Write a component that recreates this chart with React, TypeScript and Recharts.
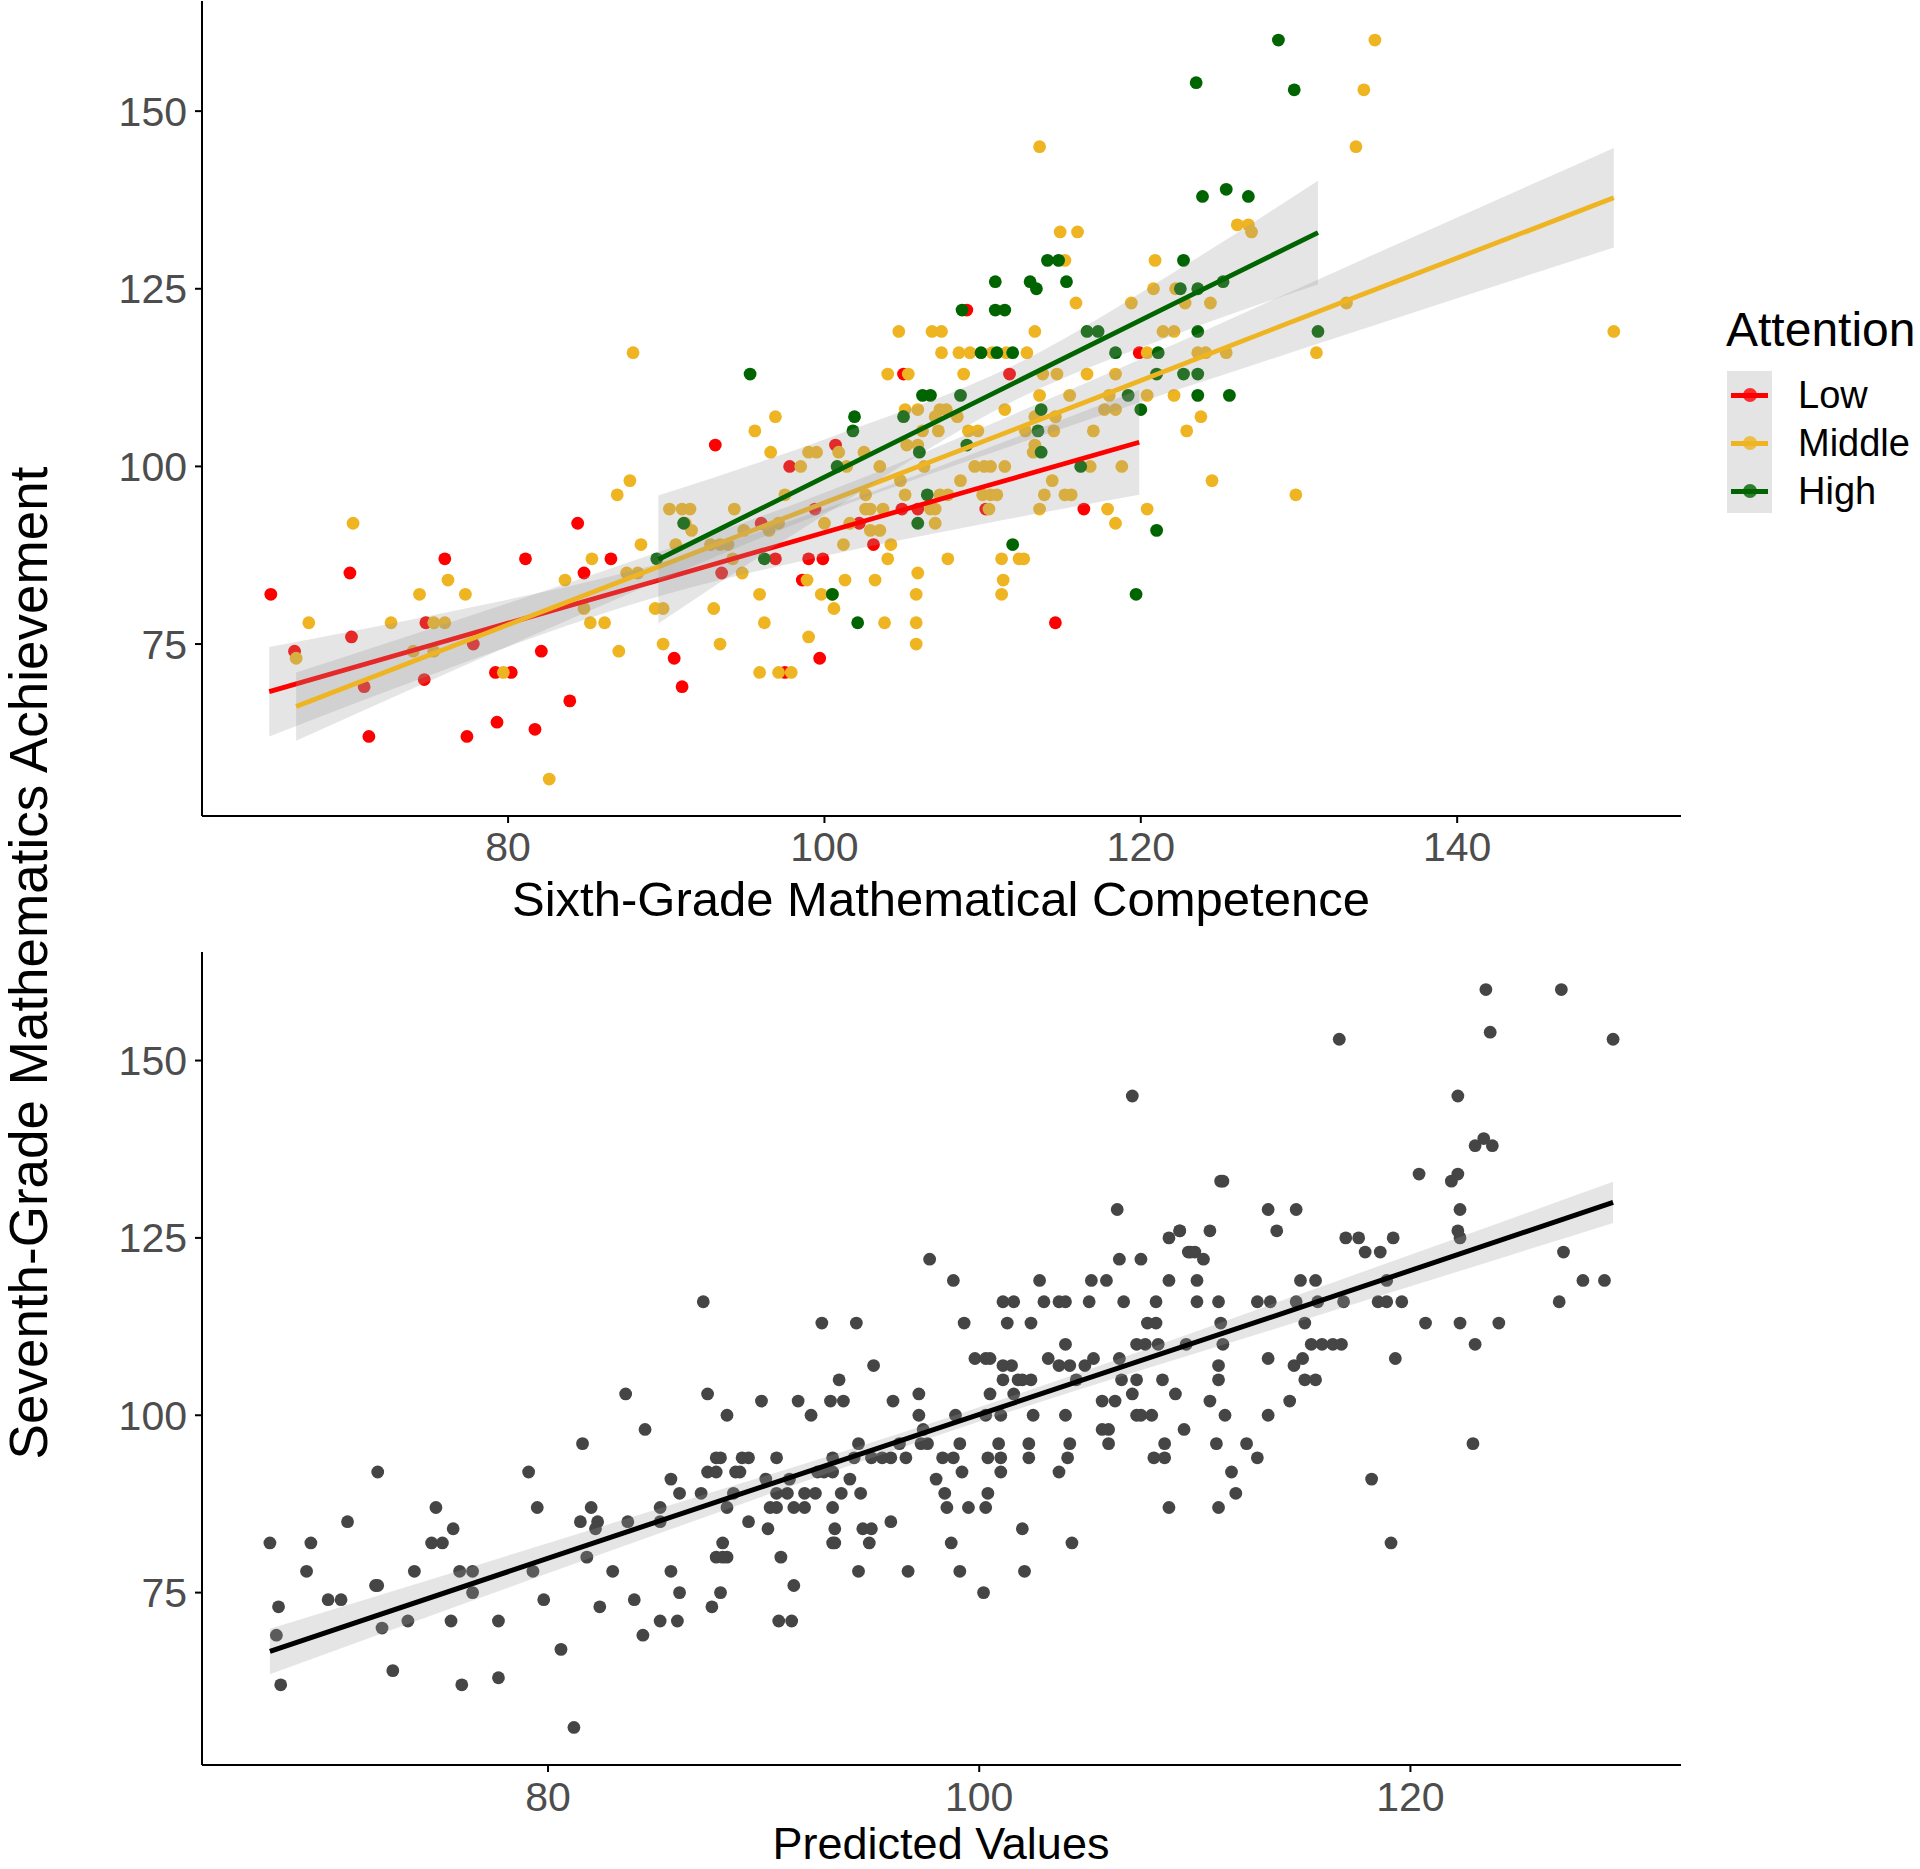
import React from 'react';
import { ComposedChart, Scatter, Line, Area, XAxis, YAxis } from 'recharts';

const FONT = '"Liberation Sans", Arial, sans-serif';

// top panel: [sixth-grade competence, seventh-grade achievement] per attention group
const lowPts = [
  [65, 82], [66.5, 74], [70.1, 76], [70, 85], [70.9, 69], [71.2, 62], [76, 87], [74.8, 78], [77.8, 75], [74.7, 70],
  [77.4, 62], [79.2, 71], [80.2, 71], [79.3, 64], [81.1, 87], [82.1, 74], [81.7, 63], [83.9, 67], [84.4, 92], [84.8, 85],
  [86.5, 87], [90.5, 73], [91, 69], [93.1, 103], [100.7, 103], [97.8, 100], [99.4, 94], [96, 92], [102.2, 92], [103.1, 89],
  [96.9, 87], [99, 87], [99.9, 87], [93.5, 85], [98.6, 84], [99.7, 73], [97.5, 71], [114.6, 78], [116.4, 94], [110.2, 94],
  [104.9, 94], [105.9, 94], [109, 122], [105, 113], [111.7, 113], [119.9, 116],
];

const middlePts = [
  [70.2, 92], [67.4, 78], [66.6, 73], [76.2, 84], [74.4, 82], [77.3, 82], [72.6, 78], [75.3, 78], [76, 78], [74, 74],
  [75.3, 74], [79.7, 71], [82.6, 56], [83.6, 84], [85.3, 87], [84.8, 80], [85.2, 78], [86.1, 78], [87, 74], [86.9, 96],
  [87.7, 98], [88.4, 89], [87.5, 85], [88.2, 85], [89.3, 80], [89.8, 80], [89.8, 75], [90.2, 94], [91, 94], [91.5, 94],
  [91.2, 92], [91.6, 91], [90.6, 89], [87.9, 116],
  [95.6, 105], [96.9, 107], [96.6, 102], [99, 102], [99.5, 102], [100.9, 102], [102.5, 102], [98.5, 100], [101.4, 100], [103.5, 100],
  [94.3, 94], [97.5, 96], [96.5, 91], [97.1, 92], [94.9, 91], [100, 92], [101.6, 92], [102.6, 96], [102.6, 94], [102.9, 94],
  [103.7, 94], [102.9, 91], [103.5, 91], [104.2, 89], [104, 87], [101.2, 89], [93.4, 89], [93.9, 89], [92.8, 89], [94.2, 87],
  [94.8, 85], [98.9, 84], [101.3, 84], [103.2, 84], [105.9, 85], [95.9, 82], [99.8, 82], [100.5, 82], [105.8, 82], [100.6, 80],
  [93, 80], [96.2, 78], [103.8, 78], [105.8, 78], [105.8, 75], [93.4, 75], [99, 76], [95.9, 71], [97.1, 71], [97.9, 71],
  [107.8, 87], [111.2, 87], [112.3, 87], [112.6, 87], [111.3, 84], [111.2, 82], [117.9, 94], [118.4, 92], [120.4, 94],
  [113.6, 110], [115.5, 110], [118, 110], [120.4, 110], [113.3, 107], [112.7, 105], [113.3, 103], [113.2, 102], [114.5, 105], [114.6, 107],
  [117, 105], [117.7, 108], [118.4, 108], [116.8, 100], [118.8, 100], [114.4, 98], [113.9, 96], [115.2, 96], [115.6, 96], [113.6, 94],
  [110.4, 94], [110, 96], [110.5, 96], [110.9, 96], [111.4, 100], [109.5, 100], [110.1, 100], [110.5, 100], [108.6, 98], [109.1, 105],
  [109.7, 105], [111.4, 108], [108.4, 107], [107.3, 108], [107.7, 108], [107, 107], [107.2, 105], [106.2, 105], [105.1, 108], [105.9, 108],
  [105.2, 103], [105.9, 103], [106.3, 100], [104.8, 98], [105.1, 96], [107.3, 96], [107.8, 96], [106.7, 94], [107, 94], [107, 92],
  [113.6, 145], [114.9, 133], [116, 133], [115.2, 129], [115.9, 123], [119.4, 123], [104.7, 119], [106.8, 119], [107.4, 119], [113.3, 119],
  [107.4, 116], [108.5, 116], [109.2, 116], [110.6, 116], [111.5, 116], [112.8, 116], [120.4, 116], [104, 113], [105.3, 113], [108.8, 113],
  [113.8, 113], [114.7, 113], [116.6, 113], [118.4, 113],
  [134.8, 160], [134.1, 153], [133.6, 145], [126.1, 134], [126.8, 134], [127, 133], [120.9, 129], [120.8, 125], [122.2, 125], [122.8, 123],
  [124.4, 123], [121.4, 119], [122.1, 119], [149.9, 119], [123.6, 116], [124.1, 116], [125.4, 116], [131.1, 116], [133, 123], [122.1, 110],
  [123.8, 107], [122.9, 105], [124.5, 98], [129.8, 96],
];

const highPts = [
  [89.4, 87], [91.1, 92], [101.9, 107], [101.8, 105], [100.8, 100], [96.2, 87], [100.5, 82], [102.1, 78], [111.9, 89], [119.7, 82],
  [106.2, 110], [106.7, 110], [108.6, 110], [119.2, 110], [120, 108], [113.7, 108], [113.5, 105], [113.7, 102], [116.2, 100], [109, 103],
  [105, 107], [106, 102], [106.5, 96], [105.9, 92],
  [114.1, 129], [114.8, 129], [110.8, 126], [113, 126], [113.4, 125], [115.3, 126], [108.7, 122], [110.8, 122], [111.4, 122], [116.6, 119],
  [117.3, 119], [109.9, 116], [110.9, 116], [111.9, 116], [118.4, 116], [95.3, 113], [121.1, 116],
  [128.7, 160], [123.5, 154], [129.7, 153], [123.9, 138], [125.4, 139], [126.8, 138], [122.7, 129], [122.5, 125], [123.6, 125], [125.2, 126],
  [123.6, 119], [131.2, 119], [121, 113], [122.7, 113], [123.6, 113], [123.6, 110], [125.6, 110], [121, 91],
];

// bottom panel: [predicted value, seventh-grade achievement]
const predPts = [
  [67.1, 82], [67.4, 69], [67.5, 73], [67.6, 62], [68.8, 78], [69, 82], [69.8, 74], [70.4, 74], [70.7, 85], [72.1, 92],
  [72, 76], [72.1, 76], [72.3, 70], [72.8, 64], [73.5, 71], [73.8, 78], [74.6, 82], [75.1, 82], [74.8, 87], [75.6, 84],
  [75.5, 71], [75.9, 78], [76.5, 78], [76.5, 75], [76, 62], [77.7, 71], [77.7, 63], [79.1, 92], [79.5, 87], [79.3, 78],
  [79.8, 74], [80.6, 67], [81.2, 56], [81.6, 96], [81.5, 85], [82, 87], [82.3, 85], [82.2, 84], [81.8, 80], [83, 78],
  [82.4, 73], [83.6, 103], [83.7, 85], [84, 74], [84.4, 69], [84.5, 98], [85.2, 87], [85.2, 85], [85.7, 91], [86.1, 89],
  [85.7, 78], [86.1, 75], [85.2, 71], [86, 71], [87.1, 89], [87.4, 103], [88.3, 100], [87.8, 94], [88, 94], [87.4, 92],
  [87.8, 92], [88.3, 87], [88.1, 82], [87.8, 80], [88.3, 80], [88, 75], [87.6, 73], [87.2, 116],
  [88.7, 92], [88.9, 92], [89, 94], [89.3, 94], [88.6, 89], [88.1, 80], [89.9, 102], [91.6, 102], [92.2, 100], [93.1, 102],
  [93.7, 102], [93.5, 105], [95.1, 107], [96, 102], [97.2, 103], [97.2, 100], [97.4, 98], [97.3, 96], [97.6, 96], [96.3, 96],
  [94.4, 96], [90.6, 94], [93.2, 94], [94.2, 94], [95, 94], [95.5, 94], [95.9, 94], [96.6, 94], [90.1, 91], [91.2, 91],
  [92.5, 92], [92.8, 92], [93.2, 92], [94, 91], [90.6, 89], [91.1, 89], [91.9, 89], [92.4, 89], [93.6, 89], [94.5, 89],
  [90.3, 87], [90.6, 87], [91.4, 87], [91.9, 87], [93.2, 87], [89.3, 85], [90.2, 84], [93.3, 84], [94.6, 84], [95, 84],
  [95.9, 85], [93.2, 82], [93.3, 82], [94.9, 82], [90.8, 80], [91.4, 76], [90.7, 71], [91.3, 71], [94.4, 78], [96.7, 78],
  [98, 91], [98.3, 94], [98.8, 94], [98.9, 100], [99.1, 96], [99.2, 92], [98.4, 89], [98.5, 87], [99.5, 87], [98.7, 82],
  [99.1, 78], [100.2, 75], [99.8, 108], [100.3, 108], [100.5, 108], [101.1, 107], [101.5, 107], [101.1, 105], [101.8, 105], [102, 105],
  [102.4, 105], [100.5, 103], [101.6, 103], [100.3, 100], [101, 100], [102.5, 100], [100.9, 96], [102.3, 96], [100.4, 94], [101, 94],
  [102.3, 94], [101, 92], [100.4, 89], [100.3, 87], [102, 84], [102.1, 78], [103.2, 108], [104, 110], [103.7, 107], [104.2, 107],
  [104.5, 105], [104.9, 107], [105.3, 108], [104, 100], [104.2, 96], [104.1, 94], [103.7, 92], [104.3, 82], [105.7, 102], [106.3, 102],
  [105.7, 98], [106, 98], [106, 96], [106.5, 108], [106.6, 105], [107.1, 103], [107.3, 105], [107.3, 110], [107.7, 110], [108.3, 110],
  [107.3, 100], [107.5, 100], [108, 100], [108.5, 105], [109.1, 103], [109.5, 98], [108.6, 96], [108.1, 94], [108.6, 94], [108.8, 87],
  [109.6, 110],
  [111.3, 110], [115.4, 110], [115.9, 110], [116.4, 110], [116.8, 110], [123, 110], [113.4, 108], [115, 108], [114.6, 107], [119.3, 108],
  [111.1, 107], [111.1, 105], [115.1, 105], [115.6, 105], [110.7, 102], [114.4, 102], [111.4, 100], [113.4, 100], [111, 96], [112.4, 96],
  [122.9, 96], [112.9, 94], [111.7, 92], [118.2, 91], [111.9, 89], [111.1, 87], [119.1, 82],
  [107.1, 145], [106.4, 129], [97.7, 122], [98.8, 119], [92.7, 113], [94.3, 113], [99.3, 113], [101.3, 113], [102.4, 113], [102.8, 119],
  [105.2, 119], [105.9, 119], [101.1, 116], [101.6, 116], [103, 116], [103.7, 116], [104, 116], [105.1, 116], [106.7, 116], [108.2, 116],
  [106.5, 122], [107.5, 122], [108.8, 125], [109.3, 126], [109.7, 123], [108.8, 119], [107.8, 113], [108.2, 113],
  [123.5, 160], [127, 160], [123.7, 154], [129.4, 153], [116.7, 153], [122.2, 145], [123, 138], [123.4, 139], [123.8, 138], [120.4, 134],
  [121.9, 133], [122.2, 134], [111.2, 133], [111.3, 133], [113.4, 129], [114.7, 129], [122.3, 129], [109.3, 126], [110.7, 126], [113.8, 126],
  [109.8, 123], [110, 123], [110.4, 122], [117, 125], [117.6, 125], [119.2, 125], [117.9, 123], [118.6, 123], [122.2, 126], [122.3, 125],
  [127.1, 123], [110.1, 119], [114.9, 119], [115.6, 119], [118.9, 119], [128, 119], [129, 119], [110.1, 116], [111.1, 116], [112.9, 116],
  [113.5, 116], [114.7, 116], [115.7, 116], [116.9, 116], [118.5, 116], [118.9, 116], [119.6, 116], [126.9, 116], [111.2, 113], [115.1, 113],
  [120.7, 113], [122.3, 113], [124.1, 113],
];

// lm fits with 95% bands: [x, fit, lower, upper]
const lowFit = [[64.9, 68.3, 62.0, 74.6], [76, 75.4, 71.4, 79.4], [90, 84.3, 82.0, 86.6], [100, 90.7, 87.4, 94.0], [110, 97.1, 91.9, 102.3], [119.9, 103.4, 96.0, 110.8]];
const middleFit = [[66.6, 66.2, 61.4, 71.0], [83, 80.3, 77.6, 83.0], [100, 94.9, 93.5, 96.3], [117, 109.5, 106.8, 112.2], [134, 124.2, 119.3, 129.1], [149.9, 137.8, 130.8, 144.8]];
const highFit = [[89.5, 86.9, 77.9, 95.9], [100, 98.5, 93.2, 103.8], [112.5, 112.3, 109.8, 114.8], [122, 122.8, 118.4, 127.2], [131.2, 132.9, 125.6, 140.2]];
const predFit = [[67.1, 66.7, 63.5, 69.9], [83, 82.9, 81.0, 84.8], [99, 99.1, 98.1, 100.1], [115, 115.3, 113.4, 117.2], [129.4, 130.0, 127.1, 132.9]];

const yTicks = [75, 100, 125, 150];
const topXTicks = [80, 100, 120, 140];
const bottomXTicks = [80, 100, 120];

const groups = [
  { name: 'Low', color: '#FF0000' },
  { name: 'Middle', color: '#EEB422' },
  { name: 'High', color: '#006400' },
];

const toXY = (pts: number[][]) => pts.map(([x, y]) => ({ x, y }));
const toFit = (rows: number[][]) => rows.map(([x, y, lo, hi]) => ({ x, y, band: [lo, hi] }));

const dot = (fill: string) => (p: any) => <circle cx={p.cx} cy={p.cy} r={6.4} fill={fill} />;

const axisLine = { stroke: '#000', strokeWidth: 2 };
const tickStyle = { fill: '#4D4D4D', fontSize: 41, fontFamily: FONT };
const BAND = '#999999';
const BAND_OP = 0.26;

export default function App() {
  const fits = [toFit(lowFit), toFit(middleFit), toFit(highFit)];
  const pts = [toXY(lowPts), toXY(middlePts), toXY(highPts)];

  return (
    <div style={{ position: 'absolute', left: 0, top: 0, width: 1920, height: 1869, background: '#fff', fontFamily: FONT, overflow: 'hidden' }}>
      <div style={{ position: 'absolute', left: 0, top: 0 }}>
        <ComposedChart width={1700} height={900} margin={{ top: 1, right: 19, bottom: 24, left: 0 }}>
          <XAxis type="number" dataKey="x" domain={[60.65, 154.15]} ticks={topXTicks} allowDataOverflow interval={0}
            axisLine={axisLine} tickLine={axisLine} tickSize={7} tickMargin={9} tick={tickStyle} height={60} />
          <YAxis type="number" dataKey="y" domain={[50.8, 165.5]} ticks={yTicks} allowDataOverflow interval={0} width={202}
            axisLine={axisLine} tickLine={axisLine} tickSize={7} tickMargin={8} tick={tickStyle} />
          {groups.map((g, i) => (
            <Scatter key={g.name} name={g.name} data={pts[i]} dataKey="y" fill={g.color} shape={dot(g.color)}
              isAnimationActive={false} zIndex={100} />
          ))}
          {groups.flatMap((g, i) => [
            <Area key={g.name + '-band'} data={fits[i]} dataKey="band" type="monotone" stroke="none" fill={BAND}
              fillOpacity={BAND_OP} isAnimationActive={false} zIndex={200 + i * 2} />,
            <Line key={g.name + '-fit'} data={fits[i]} dataKey="y" type="linear" stroke={g.color} strokeWidth={4.8}
              dot={false} activeDot={false} isAnimationActive={false} zIndex={201 + i * 2} />,
          ])}
        </ComposedChart>
      </div>

      <div style={{ position: 'absolute', left: 0, top: 940 }}>
        <ComposedChart width={1700} height={900} margin={{ top: 12, right: 19, bottom: 15, left: 0 }}>
          <XAxis type="number" dataKey="x" domain={[63.95, 132.55]} ticks={bottomXTicks} allowDataOverflow interval={0}
            axisLine={axisLine} tickLine={axisLine} tickSize={7} tickMargin={10} tick={tickStyle} height={60} />
          <YAxis type="number" dataKey="y" domain={[50.7, 165.3]} ticks={yTicks} allowDataOverflow interval={0} width={202}
            axisLine={axisLine} tickLine={axisLine} tickSize={7} tickMargin={8} tick={tickStyle} />
          <Scatter data={toXY(predPts)} dataKey="y" fill="#454545" shape={dot('#454545')} isAnimationActive={false} zIndex={100} />
          <Area data={toFit(predFit)} dataKey="band" type="monotone" stroke="none" fill={BAND} fillOpacity={BAND_OP}
            isAnimationActive={false} zIndex={200} />
          <Line data={toFit(predFit)} dataKey="y" type="linear" stroke="#000" strokeWidth={5} dot={false} activeDot={false}
            isAnimationActive={false} zIndex={201} />
        </ComposedChart>
      </div>

      {/* axis titles */}
      <div style={{ position: 'absolute', left: 941, top: 899, transform: 'translate(-50%, -50%)', fontSize: 49, lineHeight: 1, whiteSpace: 'nowrap', color: '#000' }}>
        Sixth-Grade Mathematical Competence
      </div>
      <div style={{ position: 'absolute', left: 941, top: 1844, transform: 'translate(-50%, -50%)', fontSize: 45, lineHeight: 0.95, whiteSpace: 'nowrap', color: '#000' }}>
        Predicted Values
      </div>
      <div style={{ position: 'absolute', left: 28, top: 963, transform: 'translate(-50%, -50%) rotate(-90deg)', fontSize: 53, lineHeight: 1, whiteSpace: 'nowrap', color: '#000' }}>
        Seventh-Grade Mathematics Achievement
      </div>

      {/* legend */}
      <div style={{ position: 'absolute', left: 1726, top: 306, fontSize: 48, lineHeight: 1, color: '#000', whiteSpace: 'nowrap' }}>
        Attention
      </div>
      <div style={{ position: 'absolute', left: 1727, top: 371, width: 45, height: 142, background: '#E4E4E4' }} />
      {groups.map((g, i) => {
        const cy = 395 + i * 48;
        return (
          <React.Fragment key={g.name}>
            <div style={{ position: 'absolute', left: 1743, top: cy - 7, width: 14, height: 14, borderRadius: 7, background: g.color, opacity: 0.8 }} />
            <div style={{ position: 'absolute', left: 1731, top: cy - 2.5, width: 37, height: 5, background: g.color }} />
            <div style={{ position: 'absolute', left: 1798, top: cy, transform: 'translateY(-50%)', fontSize: 38, lineHeight: 1, color: '#000', whiteSpace: 'nowrap' }}>
              {g.name}
            </div>
          </React.Fragment>
        );
      })}
    </div>
  );
}
